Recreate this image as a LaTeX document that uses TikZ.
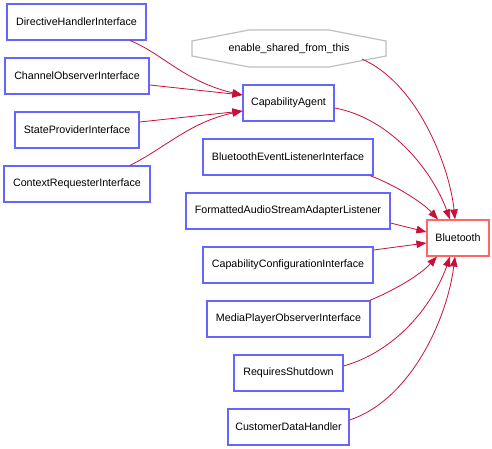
\documentclass[tikz,border=0pt]{standalone}
\usepackage{fontspec}
\setmainfont{Liberation Sans}
\usetikzlibrary{arrows.meta,calc}
\definecolor{edgecol}{RGB}{200,16,60}
\definecolor{boxcol}{RGB}{102,102,255}
\definecolor{mainbox}{RGB}{255,102,102}
\definecolor{extcol}{RGB}{191,191,191}
\begin{document}
\begin{tikzpicture}[x=1pt,y=-1pt,
  cls/.style={draw=boxcol,line width=1.2pt,fill=white,rectangle,minimum height=36pt,inner sep=0pt,font=\fontsize{10.7}{12}\selectfont},
  mainc/.style={cls,draw=mainbox},
  ext/.style={rectangle,draw=none,minimum height=37pt,minimum width=194pt,inner sep=0pt,font=\fontsize{10.7}{12}\selectfont},
  inh/.style={draw=edgecol,line width=0.8pt,-{Triangle[length=10pt,width=7.5pt]}}
]
\useasboundingbox (0,0) rectangle (492,449);
\fill[white] (0,0) rectangle (492,449);

\node[cls,minimum width=139pt] (dhi) at (76.5,22) {DirectiveHandlerInterface};
\node[cls,minimum width=144pt] (coi) at (77,76) {ChannelObserverInterface};
\node[cls,minimum width=124pt] (spi) at (77,130) {StateProviderInterface};
\node[cls,minimum width=146pt] (cri) at (77,184) {ContextRequesterInterface};

\node[ext] (esft) at (289,48.5) {enable\_shared\_from\_this};
\draw[extcol,line width=1.2pt] (249,30) -- (329,30) -- (386,41) -- (386,56) -- (329,67) -- (249,67) -- (192,56) -- (192,41) -- cycle;

\node[cls,minimum width=91pt] (ca) at (288.5,103) {CapabilityAgent};
\node[cls,minimum width=170pt] (bel) at (288,157) {BluetoothEventListenerInterface};
\node[cls,minimum width=204pt] (fasal) at (288,211) {FormattedAudioStreamAdapterListener};
\node[cls,minimum width=170pt] (cci) at (288,265) {CapabilityConfigurationInterface};
\node[cls,minimum width=163pt] (mpoi) at (288.5,319) {MediaPlayerObserverInterface};
\node[cls,minimum width=109pt] (rs) at (288.5,373) {RequiresShutdown};
\node[cls,minimum width=121pt] (cdh) at (288.5,427) {CustomerDataHandler};
\node[mainc,minimum width=62pt] (bt) at (458,238) {Bluetooth};

% into CapabilityAgent
\draw[inh] ([xshift=53.5pt]dhi.south) .. controls (160,52) and (185,82) .. ([yshift=8pt]ca.west);
\draw[inh] ([yshift=-9pt]coi.east) -- ([yshift=8pt]ca.west);
\draw[inh] ([yshift=8pt]spi.east) -- ([yshift=-8pt]ca.west);
\draw[inh] ([xshift=53pt]cri.north) .. controls (165,148) and (190,122) .. ([yshift=-8pt]ca.west);

% into Bluetooth
\draw[inh] ([yshift=-5pt]ca.east) .. controls (390,118) and (432,170) .. ([xshift=-8pt]bt.north);
\draw[inh] ($(esft.center)+(73,10.5)$) .. controls (420,85) and (450,170) .. ([xshift=-3pt]bt.north);
\draw[inh] ([xshift=82pt]bel.south) .. controls (395,185) and (422,202) .. ([xshift=-20pt]bt.north);
\draw[inh] ([yshift=-12pt]fasal.east) -- ([yshift=6pt]bt.west);
\draw[inh] ([yshift=15pt]cci.east) -- ([yshift=-5pt]bt.west);
\draw[inh] ([xshift=-1pt]mpoi.north east) .. controls (395,290) and (420,275) .. ([xshift=-21pt]bt.south);
\draw[inh] ([yshift=7pt]rs.east) .. controls (400,350) and (435,300) .. ([xshift=-8pt]bt.south);
\draw[inh] ([yshift=7pt]cdh.east) .. controls (410,400) and (447,320) .. ([xshift=-3pt]bt.south);
\end{tikzpicture}
\end{document}
